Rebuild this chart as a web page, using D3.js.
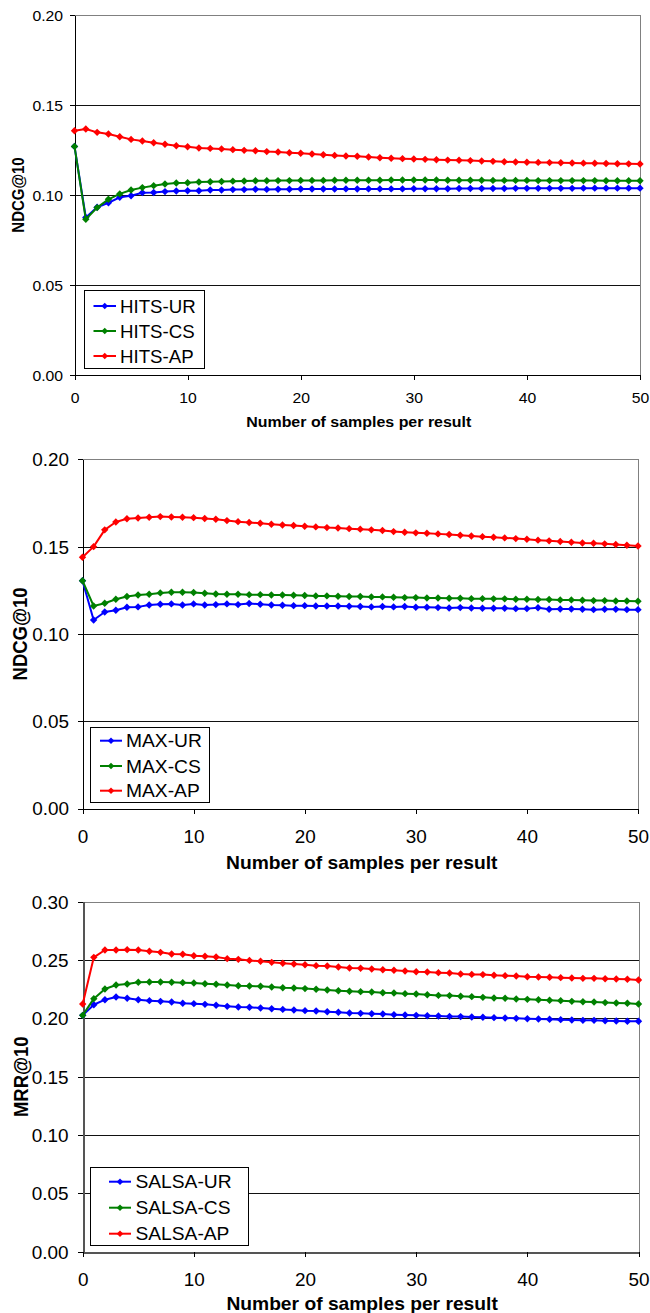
<!DOCTYPE html>
<html><head><meta charset="utf-8">
<script src="https://cdn.jsdelivr.net/npm/d3@7"></script>
<style>body{margin:0;background:#fff} svg{display:block}</style>
</head><body>
<svg id="c" width="650" height="1313"></svg>
<script>
// ---------- DATA ----------
const samples = [0,1,2,3,4,5,6,7,8,9,10,11,12,13,14,15,16,17,18,19,20,21,22,23,24,25,26,27,28,29,30,31,32,33,34,35,36,37,38,39,40,41,42,43,44,45,46,47,48,49,50];
const xTicks = [0,10,20,30,40,50];
const yTicksNDCG = [0,0.05,0.10,0.15,0.20];
const yTicksMRR = [0,0.05,0.10,0.15,0.20,0.25,0.30];
const xTitle = "Number of samples per result";

const hitsUR = [0.1270,0.0875,0.0932,0.0957,0.0987,0.0996,0.1013,0.1014,0.1019,0.1022,
 0.1024,0.1024,0.1028,0.1028,0.1030,0.1030,0.1032,0.1031,0.1032,0.1032,
 0.1033,0.1033,0.1033,0.1033,0.1034,0.1033,0.1034,0.1034,0.1034,0.1034,
 0.1035,0.1035,0.1035,0.1035,0.1036,0.1036,0.1036,0.1036,0.1036,0.1037,
 0.1037,0.1037,0.1037,0.1037,0.1037,0.1038,0.1038,0.1038,0.1038,0.1038,
 0.1038];
const hitsCS = [0.1270,0.0865,0.0930,0.0976,0.1006,0.1028,0.1041,0.1052,0.1061,0.1067,
 0.1068,0.1072,0.1074,0.1075,0.1077,0.1078,0.1079,0.1079,0.1080,0.1080,
 0.1081,0.1081,0.1081,0.1082,0.1082,0.1082,0.1082,0.1082,0.1083,0.1083,
 0.1083,0.1083,0.1083,0.1082,0.1082,0.1082,0.1082,0.1081,0.1081,0.1081,
 0.1081,0.1080,0.1080,0.1080,0.1080,0.1080,0.1080,0.1079,0.1079,0.1079,
 0.1079];
const hitsAP = [0.1357,0.1367,0.1348,0.1339,0.1324,0.1309,0.1300,0.1290,0.1282,0.1274,
 0.1268,0.1261,0.1259,0.1256,0.1252,0.1248,0.1246,0.1241,0.1239,0.1235,
 0.1232,0.1228,0.1224,0.1220,0.1217,0.1215,0.1211,0.1207,0.1204,0.1202,
 0.1200,0.1198,0.1196,0.1194,0.1193,0.1191,0.1189,0.1187,0.1185,0.1183,
 0.1182,0.1181,0.1180,0.1179,0.1178,0.1177,0.1176,0.1175,0.1174,0.1173,
 0.1172];

const maxUR = [0.1305,0.1080,0.1126,0.1136,0.1153,0.1155,0.1166,0.1170,0.1172,0.1166,
 0.1172,0.1166,0.1168,0.1172,0.1168,0.1174,0.1170,0.1166,0.1164,0.1162,
 0.1162,0.1160,0.1160,0.1160,0.1159,0.1157,0.1155,0.1157,0.1155,0.1157,
 0.1153,0.1153,0.1151,0.1149,0.1151,0.1149,0.1147,0.1147,0.1147,0.1145,
 0.1145,0.1150,0.1141,0.1143,0.1143,0.1141,0.1139,0.1141,0.1141,0.1139,
 0.1139];
const maxCS = [0.1305,0.1160,0.1176,0.1199,0.1214,0.1223,0.1227,0.1235,0.1239,0.1239,
 0.1237,0.1233,0.1229,0.1227,0.1227,0.1225,0.1225,0.1223,0.1223,0.1222,
 0.1220,0.1218,0.1218,0.1216,0.1214,0.1214,0.1212,0.1212,0.1210,0.1208,
 0.1208,0.1206,0.1206,0.1204,0.1204,0.1202,0.1202,0.1201,0.1201,0.1199,
 0.1199,0.1197,0.1197,0.1195,0.1195,0.1193,0.1191,0.1191,0.1189,0.1189,
 0.1187];
const maxAP = [0.1439,0.1500,0.1596,0.1641,0.1660,0.1664,0.1668,0.1672,0.1670,0.1668,
 0.1666,0.1661,0.1657,0.1649,0.1643,0.1638,0.1634,0.1628,0.1624,0.1621,
 0.1617,0.1613,0.1609,0.1607,0.1603,0.1600,0.1596,0.1592,0.1586,0.1582,
 0.1579,0.1577,0.1573,0.1569,0.1565,0.1561,0.1557,0.1554,0.1550,0.1546,
 0.1542,0.1537,0.1533,0.1529,0.1525,0.1521,0.1519,0.1516,0.1512,0.1508,
 0.1504];

const salsaUR = [0.2026,0.2117,0.2160,0.2183,0.2172,0.2160,0.2152,0.2146,0.2140,0.2129,
 0.2126,0.2120,0.2112,0.2103,0.2097,0.2095,0.2089,0.2083,0.2077,0.2072,
 0.2066,0.2063,0.2057,0.2052,0.2046,0.2043,0.2040,0.2037,0.2032,0.2029,
 0.2026,0.2023,0.2020,0.2017,0.2015,0.2012,0.2009,0.2006,0.2003,0.2000,
 0.1997,0.1995,0.1992,0.1989,0.1986,0.1983,0.1983,0.1980,0.1977,0.1975,
 0.1975];
const salsaCS = [0.2026,0.2169,0.2252,0.2286,0.2294,0.2309,0.2312,0.2312,0.2309,0.2306,
 0.2303,0.2297,0.2292,0.2286,0.2280,0.2277,0.2275,0.2269,0.2263,0.2260,
 0.2255,0.2249,0.2243,0.2237,0.2232,0.2229,0.2226,0.2220,0.2217,0.2212,
 0.2209,0.2203,0.2197,0.2195,0.2189,0.2186,0.2180,0.2175,0.2172,0.2166,
 0.2163,0.2160,0.2155,0.2152,0.2146,0.2143,0.2140,0.2135,0.2132,0.2129,
 0.2123];
const salsaAP = [0.2123,0.2523,0.2586,0.2586,0.2589,0.2586,0.2575,0.2566,0.2552,0.2549,
 0.2537,0.2532,0.2526,0.2512,0.2506,0.2497,0.2489,0.2480,0.2472,0.2466,
 0.2460,0.2452,0.2449,0.2440,0.2432,0.2429,0.2423,0.2417,0.2412,0.2406,
 0.2400,0.2397,0.2392,0.2389,0.2380,0.2377,0.2375,0.2369,0.2366,0.2363,
 0.2357,0.2355,0.2352,0.2349,0.2346,0.2343,0.2343,0.2340,0.2337,0.2335,
 0.2329];

// ---------- LAYOUT / STYLE ----------
const COLORS = {UR:"#0000ff", CS:"#008000", AP:"#ff0000"};
const FONT = '"Liberation Sans", Arial, Helvetica, sans-serif';
const layouts = [
  {l:74.5, r:640, t:15, b:375, yPad:12, tickF:15, tickSx:1.05, xLabY:17.5, titleF:15.5, titleSx:1.03, titleY:421.7,
   yTitleX:18, yTitleF:15, legF:18.5, legSx:1.01, axisColor:"#000", axisW:1,
   legend:{x0:84.5, x1:204, y0:290.5, y1:368, rows:[306,331,356], lx0:93.5, lx1:116, tx:120}},
  {l:82.5, r:638, t:459.3, b:808.6, yPad:14, tickF:17.7, tickSx:1.07, xLabY:21.5, titleF:18.5, titleSx:1.04, titleY:862,
   yTitleX:20, yTitleF:18.5, legF:18.5, legSx:1.04, axisColor:"#000", axisW:1,
   legend:{x0:90.5, x1:209.5, y0:727.5, y1:802.5, rows:[740.7,766,790.7], lx0:100, lx1:122, tx:126}},
  {l:82.7, r:638.5, t:901.7, b:1251.7, yPad:14.5, tickF:17.7, tickSx:1.07, xLabY:21, titleF:18.5, titleSx:1.04, titleY:1303.3,
   yTitleX:20.5, yTitleF:18.5, legF:18.5, legSx:1.04, axisColor:"#555", axisW:2,
   legend:{x0:90.5, x1:248.5, y0:1167.5, y1:1245.5, rows:[1181.7,1207.7,1233.7], lx0:109, lx1:131, tx:135.4}}
];

const charts = [
  {yMax:0.20, yTicks:yTicksNDCG, yTitle:"NDCG@10",
   series:[["HITS-UR",hitsUR,COLORS.UR],["HITS-CS",hitsCS,COLORS.CS],["HITS-AP",hitsAP,COLORS.AP]]},
  {yMax:0.20, yTicks:yTicksNDCG, yTitle:"NDCG@10",
   series:[["MAX-UR",maxUR,COLORS.UR],["MAX-CS",maxCS,COLORS.CS],["MAX-AP",maxAP,COLORS.AP]]},
  {yMax:0.30, yTicks:yTicksMRR, yTitle:"MRR@10",
   series:[["SALSA-UR",salsaUR,COLORS.UR],["SALSA-CS",salsaCS,COLORS.CS],["SALSA-AP",salsaAP,COLORS.AP]]}
];

// ---------- DRAW ----------
const svg = d3.select("#c");
const diamond = r => `M0,${-r}L${r},0L0,${r}L${-r},0Z`;

function txt(parent, x, y, str, o) {
  const g = parent.append("g").attr("transform", `translate(${x},${y})`);
  let tr = `scale(${o.sx || 1},1)`;
  if (o.rotate) tr += ` rotate(${o.rotate})`;
  g.append("text").text(str)
    .attr("font-family", FONT).attr("font-size", o.size)
    .attr("font-weight", o.bold ? "bold" : "normal")
    .attr("text-anchor", o.anchor || "start")
    .attr("dy", o.dy || "0.36em")
    .attr("fill", "#000")
    .attr("transform", tr);
}

charts.forEach((c, ci) => {
  const L = layouts[ci];
  const g = svg.append("g");
  const x = d3.scaleLinear().domain([0, 50]).range([L.l, L.r]);
  const y = d3.scaleLinear().domain([0, c.yMax]).range([L.b, L.t]);
  const px = v => Math.round(v) + 0.5;

  // gridlines
  g.append("g").selectAll("line")
    .data(c.yTicks.filter(t => t > 0 && t < c.yMax - 1e-9)).join("line")
    .attr("x1", L.l).attr("x2", L.r)
    .attr("y1", d => px(y(d))).attr("y2", d => px(y(d)))
    .attr("stroke", "#111").attr("stroke-width", 1).attr("shape-rendering", "crispEdges");
  // top & right border
  g.append("line").attr("x1", L.l).attr("x2", L.r).attr("y1", px(y(c.yMax))).attr("y2", px(y(c.yMax)))
    .attr("stroke", "#808080").attr("shape-rendering", "crispEdges");
  g.append("line").attr("x1", px(L.r)).attr("x2", px(L.r)).attr("y1", L.t).attr("y2", L.b)
    .attr("stroke", "#808080").attr("shape-rendering", "crispEdges");

  // y axis
  const ya = g.append("g").attr("transform", `translate(${Math.round(L.l)},0)`)
    .call(d3.axisLeft(y).tickValues(c.yTicks).tickFormat(d3.format(".2f")).tickSize(5).tickSizeOuter(0));
  ya.attr("font-family", FONT).attr("font-size", L.tickF).attr("color", "#000");
  ya.selectAll("line,path").attr("shape-rendering", "crispEdges");
  ya.select(".domain").attr("stroke", L.axisColor).attr("stroke-width", L.axisW);
  ya.selectAll(".tick text").attr("x", -L.yPad / L.tickSx).attr("dy", "0.36em")
    .attr("transform", `scale(${L.tickSx},1)`).attr("fill", "#000");

  // x axis
  const xa = g.append("g").attr("transform", `translate(0,${Math.round(L.b)})`)
    .call(d3.axisBottom(x).tickValues(xTicks).tickFormat(d3.format("d")).tickSize(5).tickSizeOuter(0));
  xa.attr("font-family", FONT).attr("font-size", L.tickF).attr("color", "#000");
  xa.selectAll("line,path").attr("shape-rendering", "crispEdges");
  xa.select(".domain").attr("stroke", L.axisColor).attr("stroke-width", L.axisW);
  xa.selectAll(".tick text").attr("y", L.xLabY).attr("dy", "0.71em")
    .attr("transform", `scale(${L.tickSx},1)`).attr("fill", "#000");

  // series
  const line = d3.line().x((d, i) => x(samples[i])).y(d => y(d));
  c.series.forEach(([name, vals, col]) => {
    g.append("path").datum(vals).attr("fill", "none").attr("stroke", col)
      .attr("stroke-width", 2).attr("stroke-linejoin", "round").attr("d", line);
    g.append("g").selectAll("path").data(vals).join("path")
      .attr("d", diamond(3.7))
      .attr("transform", (d, i) => `translate(${x(samples[i])},${y(d)})`)
      .attr("fill", col);
  });

  // legend
  const lg = L.legend;
  g.append("rect").attr("x", lg.x0).attr("y", lg.y0)
    .attr("width", lg.x1 - lg.x0).attr("height", lg.y1 - lg.y0)
    .attr("fill", "#fff").attr("stroke", "#000").attr("shape-rendering", "crispEdges");
  c.series.forEach(([name, vals, col], k) => {
    const cy = lg.rows[k];
    g.append("line").attr("x1", lg.lx0).attr("x2", lg.lx1).attr("y1", cy).attr("y2", cy)
      .attr("stroke", col).attr("stroke-width", 2);
    g.append("path").attr("d", diamond(3.3))
      .attr("transform", `translate(${(lg.lx0 + lg.lx1) / 2},${cy})`).attr("fill", col);
    txt(g, lg.tx, cy, name, {size: L.legF, sx: L.legSx});
  });

  // titles
  txt(g, (L.l + L.r) / 2 + 1.5, L.titleY, xTitle, {size: L.titleF, bold: true, anchor: "middle", sx: L.titleSx});
  txt(g, L.yTitleX, (L.t + L.b) / 2, c.yTitle, {size: L.yTitleF, bold: true, anchor: "middle", sx: 1.05, rotate: -90});
});
</script>
</body></html>
